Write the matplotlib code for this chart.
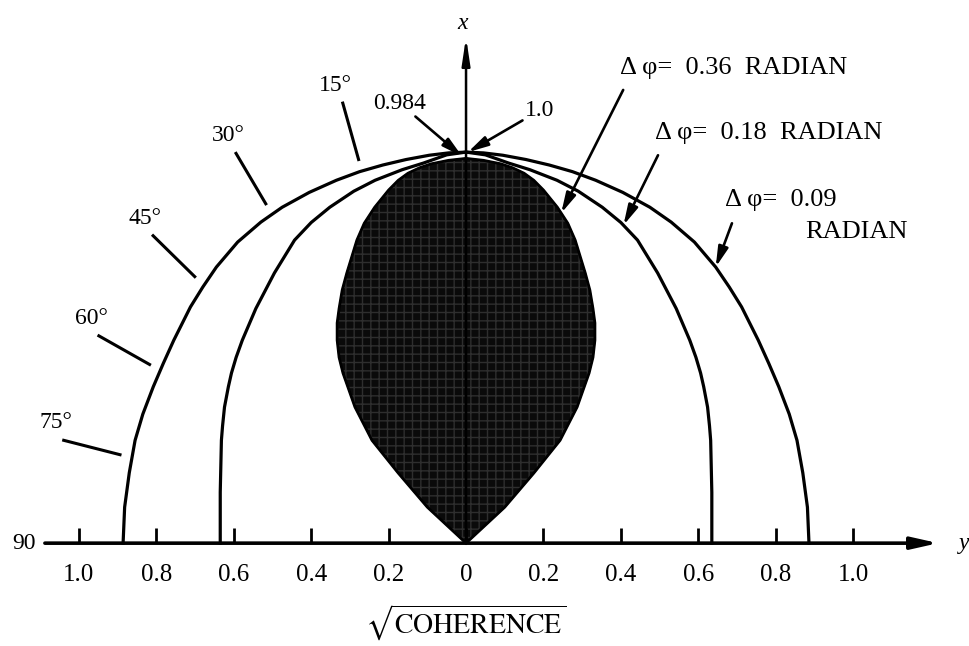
import numpy as np
import matplotlib
matplotlib.use('Agg')
import matplotlib.pyplot as plt

plt.rcParams['font.family'] = ['Liberation Serif', 'DejaVu Serif']
plt.rcParams['mathtext.fontset'] = 'stix'

# half width (sqrt coherence) against height along x, one list pair per phase error
h_009 = [0.0, 0.092, 0.18, 0.263, 0.33, 0.40, 0.46, 0.519, 0.604, 0.655, 0.706, 0.77,
         0.821, 0.859, 0.897, 0.928, 0.950, 0.967, 0.981, 0.992, 0.998, 1.0]
w_009 = [0.886, 0.882, 0.870, 0.855, 0.835, 0.808, 0.782, 0.755, 0.712, 0.68, 0.645, 0.59,
         0.53, 0.475, 0.405, 0.335, 0.275, 0.215, 0.155, 0.095, 0.045, 0.0]

h_018 = [0.0, 0.13, 0.263, 0.30, 0.348, 0.40, 0.435, 0.475, 0.519, 0.60, 0.691, 0.775,
         0.82, 0.859, 0.90, 0.928, 0.955, 0.972, 0.993, 1.0]
w_018 = [0.635, 0.635, 0.632, 0.629, 0.624, 0.614, 0.606, 0.594, 0.578, 0.543, 0.495, 0.443,
         0.40, 0.352, 0.29, 0.235, 0.165, 0.11, 0.05, 0.0]

h_036 = [0.0, 0.092, 0.179, 0.263, 0.348, 0.435, 0.475, 0.519, 0.563, 0.60, 0.647, 0.691,
         0.775, 0.818, 0.859, 0.903, 0.928, 0.946, 0.960, 0.970, 0.979, 0.984]
w_036 = [0.0, 0.10, 0.175, 0.243, 0.287, 0.318, 0.328, 0.333, 0.333, 0.328, 0.32, 0.308,
         0.282, 0.263, 0.236, 0.20, 0.175, 0.15, 0.12, 0.09, 0.045, 0.0]

tick_pos = [-1.0, -0.8, -0.6, -0.4, -0.2, 0.0, 0.2, 0.4, 0.6, 0.8, 1.0]
tick_lbl = ['1.0', '0.8', '0.6', '0.4', '0.2', '0', '0.2', '0.4', '0.6', '0.8', '1.0']
angles = [15, 30, 45, 60, 75]


def outline(w, h):
    w = np.asarray(w)
    h = np.asarray(h)
    return np.concatenate([-w, w[::-1]]), np.concatenate([h, h[::-1]])


fig = plt.figure(figsize=(9.7, 6.46), dpi=100)
ax = fig.add_axes([0, 0, 1, 1])
ax.set_xlim(-1.204, 1.302)
ax.set_ylim(-0.263, 1.389)
ax.axis('off')

# shaded region for 0.36 rad
xs, ys = outline(w_036, h_036)
ax.fill(xs, ys, color='#0a0a0a', zorder=2)
ax.fill(xs, ys, facecolor='none', edgecolor='#2e2e2e', hatch='++', lw=0, zorder=2)
ax.plot(xs, ys, color='k', lw=2, zorder=3)

for w, h in [(w_018, h_018), (w_009, h_009)]:
    xc, yc = outline(w, h)
    ax.plot(xc, yc, color='k', lw=2.3, zorder=3, solid_joinstyle='round')

# axes drawn as arrows
ax.annotate('', xy=(1.22, 0), xytext=(-1.088, 0),
            arrowprops=dict(arrowstyle='-|>,head_length=0.8,head_width=0.18', mutation_scale=20,
                            color='k', lw=2.6, shrinkA=0, shrinkB=0), zorder=4)
ax.annotate('', xy=(0, 1.294), xytext=(0, 0),
            arrowprops=dict(arrowstyle='-|>,head_length=0.8,head_width=0.12', mutation_scale=20,
                            color='k', lw=1.8, shrinkA=0, shrinkB=0), zorder=4)
ax.text(-0.01, 1.33, 'x', style='italic', fontsize=17, ha='center', va='center')
ax.text(1.30, 0.0, 'y', style='italic', fontsize=17, ha='right', va='center')

ax.vlines(tick_pos, 0, 0.04, colors='k', lw=2, zorder=4)
for p, lbl in zip(tick_pos, tick_lbl):
    ax.text(p, -0.082, lbl, ha='center', va='center', fontsize=18)
ax.text(0, -0.205, r'$\sqrt{\mathrm{COHERENCE}}$', ha='center', va='center', fontsize=20)

# angle marks along the outer curve
wo = np.asarray(w_009)
ho = np.asarray(h_009)
th_o = np.degrees(np.arctan2(wo, ho))
r_o = np.hypot(wo, ho)
for a in angles:
    r = np.interp(a, th_o[::-1], r_o[::-1]) + 0.03
    t = np.radians(a + 0.8)
    x0, y0 = -r * np.sin(t), r * np.cos(t)
    x1, y1 = -(r + 0.15) * np.sin(t), (r + 0.15) * np.cos(t)
    ax.plot([x0, x1], [y0, y1], color='k', lw=2.2)
    ax.text(x1 - 0.02, y1 + 0.045, f'{a}°', ha='center', va='center', fontsize=17)
ax.text(-1.142, 0.0, '90', ha='center', va='center', fontsize=17)

arr = dict(arrowstyle='-|>,head_length=0.6,head_width=0.15', mutation_scale=20,
           color='k', lw=1.9, shrinkA=0, shrinkB=0)

# peak values
ax.annotate('0.984', xy=(-0.01, max(h_036) + 0.005), xytext=(-0.171, 1.125),
            ha='center', va='center', fontsize=17, arrowprops=arr)
ax.annotate('1.0', xy=(0.005, max(h_009)), xytext=(0.191, 1.107),
            ha='center', va='center', fontsize=17, arrowprops=arr)

# phase error labels
v = 0.844
ax.annotate('', xy=(np.interp(v, h_036[7:], w_036[7:]), v), xytext=(0.406, 1.159),
            arrowprops=arr)
ax.text(0.398, 1.215, 'Δ φ=  0.36  RADIAN', ha='left', va='center', fontsize=19)

v = 0.813
ax.annotate('', xy=(np.interp(v, h_018, w_018), v), xytext=(0.496, 0.992), arrowprops=arr)
ax.text(0.488, 1.049, 'Δ φ=  0.18  RADIAN', ha='left', va='center', fontsize=19)

v = 0.706
ax.annotate('', xy=(np.interp(v, h_009, w_009), v), xytext=(0.687, 0.818), arrowprops=arr)
ax.text(0.669, 0.877, 'Δ φ=  0.09', ha='left', va='center', fontsize=19)
ax.text(0.876, 0.795, 'RADIAN', ha='left', va='center', fontsize=19)

fig.savefig('out.png', dpi=100)
